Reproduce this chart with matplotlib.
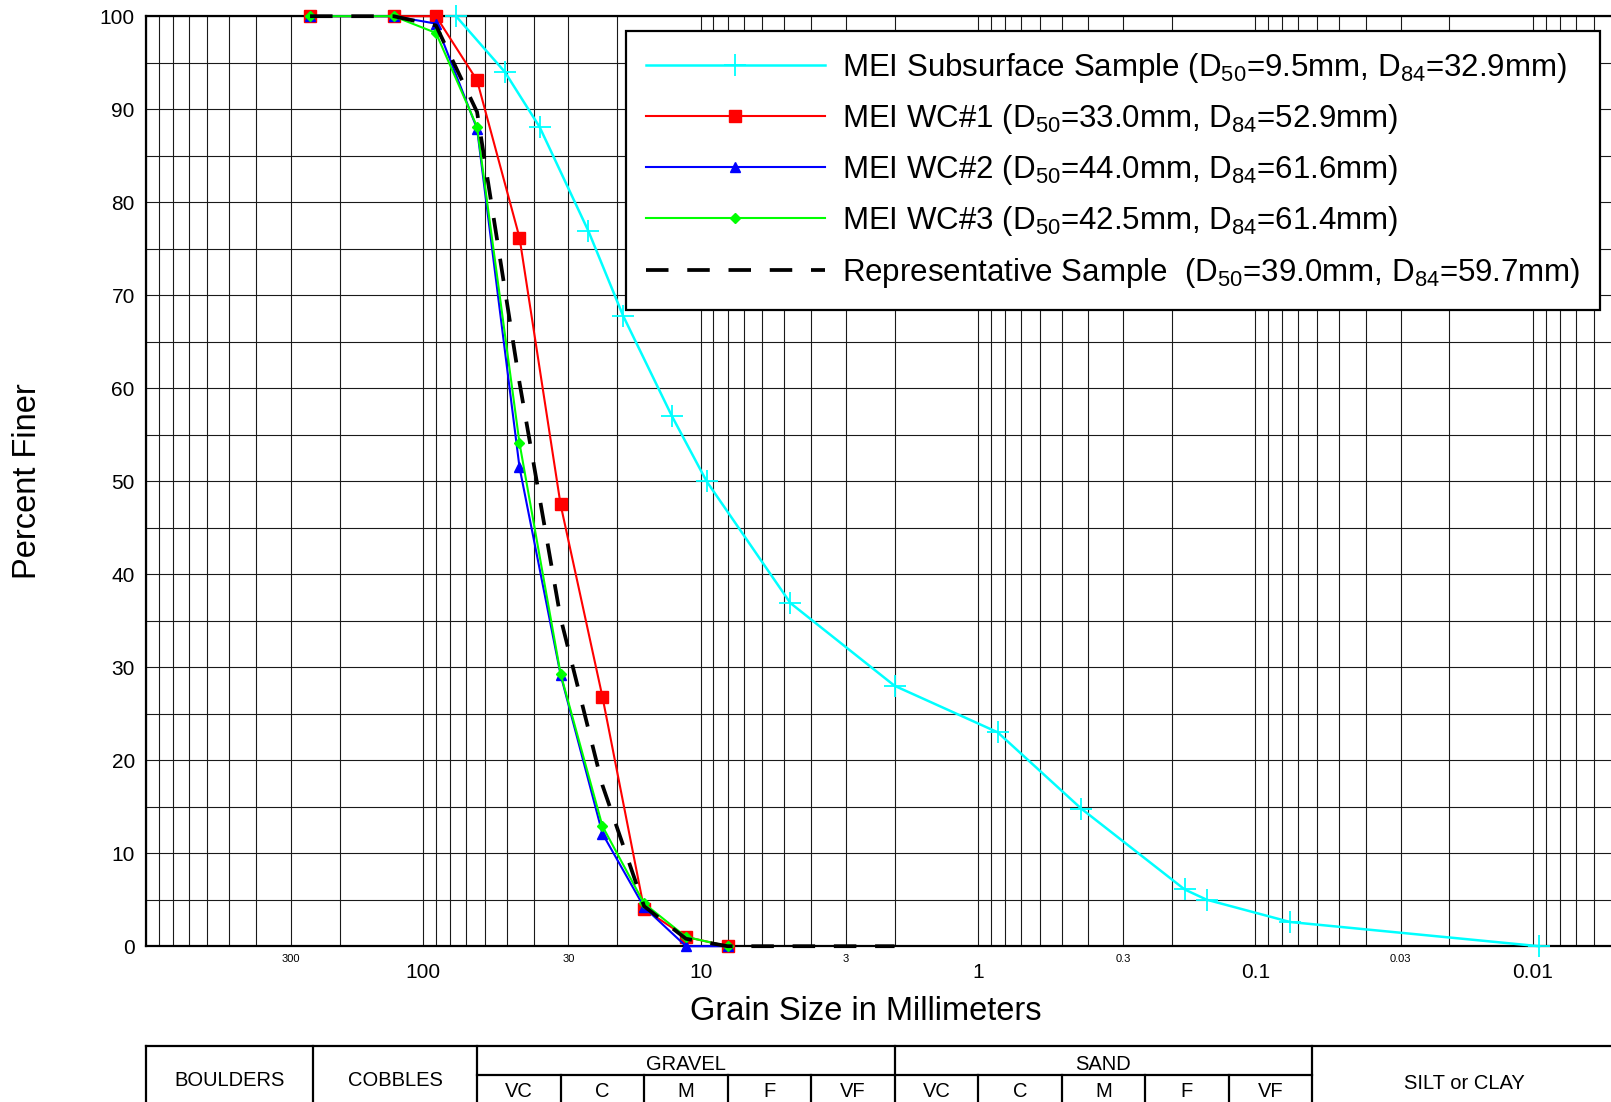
import numpy as np
import matplotlib
matplotlib.use("Agg")
import matplotlib.pyplot as plt
from matplotlib.ticker import LogLocator, FuncFormatter, MultipleLocator

plt.rcParams['font.family'] = ['Liberation Sans', 'DejaVu Sans']
plt.rcParams['mathtext.fontset'] = 'custom'
plt.rcParams['mathtext.rm'] = 'Liberation Sans'
plt.rcParams['mathtext.it'] = 'Liberation Sans'
plt.rcParams['mathtext.bf'] = 'Liberation Sans:bold'
plt.rcParams['mathtext.default'] = 'regular'

# ---------------- data ----------------
sub_sizes = [76.2, 50.8, 38.1, 25.4, 19.05, 12.7, 9.525, 4.75, 2.0, 0.85, 0.425, 0.18, 0.15, 0.075, 0.0095]
sub_pct = [100, 94.0, 88.1, 76.9, 67.8, 57.0, 50.0, 36.9, 28.0, 23.0, 14.8, 6.1, 5.0, 2.6, 0]

wc_sizes = [256, 128, 90, 64, 45, 32, 22.6, 16, 11.3, 8]
wc1_pct = [100, 100, 100, 93.1, 76.2, 47.5, 26.8, 4.0, 1.0, 0]
wc2_pct = [100, 100, 99.2, 87.9, 51.5, 29.2, 12.1, 4.2, 0, 0]
wc3_pct = [100, 100, 98.2, 88.1, 54.1, 29.3, 12.9, 4.6, 1.0, 0]

rep_sizes = [256, 128, 90, 64, 45, 32, 22.6, 16, 11.3, 8, 2]
rep_pct = [100, 100, 99.0, 89.7, 60.6, 35.3, 17.3, 4.3, 0.8, 0, 0]

labels = [
    r'MEI Subsurface Sample (D$_{50}$=9.5mm, D$_{84}$=32.9mm)',
    r'MEI WC#1 (D$_{50}$=33.0mm, D$_{84}$=52.9mm)',
    r'MEI WC#2 (D$_{50}$=44.0mm, D$_{84}$=61.6mm)',
    r'MEI WC#3 (D$_{50}$=42.5mm, D$_{84}$=61.4mm)',
    r'Representative Sample  (D$_{50}$=39.0mm, D$_{84}$=59.7mm)',
]

# grain-size classification table
main_classes = ['BOULDERS', 'COBBLES', 'GRAVEL', 'SAND', 'SILT or CLAY']
main_bounds = [1000, 250, 64, 2, 0.0625, 0.005]
sub_classes = ['VC', 'C', 'M', 'F', 'VF']
gravel_bounds = [64, 32, 16, 8, 4, 2]
sand_bounds = [2, 1, 0.5, 0.25, 0.125, 0.0625]

x_limits = (1000, 0.005)

# ---------------- figure ----------------
W, H = 1611, 1102
fig = plt.figure(figsize=(W / 100, H / 100), dpi=100)

ax_left = 145.9 / W
ax_right_px = 1616.4
ax_bottom = 1 - 946.2 / H
ax_top = 1 - 16.2 / H
ax = fig.add_axes([ax_left, ax_bottom, (ax_right_px - 145.9) / W, ax_top - ax_bottom])

ax.set_xscale('log')
ax.set_xlim(*x_limits)
ax.set_ylim(0, 100)

ax.xaxis.set_major_locator(LogLocator(base=10, numticks=20))
ax.xaxis.set_minor_locator(LogLocator(base=10, subs=np.arange(2, 10), numticks=200))


def major_fmt(v, pos):
    if v >= 999:
        return ''
    return '%g' % v


def minor_fmt(v, pos):
    m = v / 10 ** np.floor(np.log10(v) + 1e-9)
    if abs(m - 3) < 1e-6:
        return '%g' % float('%.3g' % v)
    return ''


ax.xaxis.set_major_formatter(FuncFormatter(major_fmt))
ax.xaxis.set_minor_formatter(FuncFormatter(minor_fmt))
ax.yaxis.set_major_locator(MultipleLocator(10))
ax.yaxis.set_minor_locator(MultipleLocator(5))

ax.tick_params(axis='x', which='major', length=0, labelsize=15, pad=12)
ax.tick_params(axis='x', which='minor', length=0, labelsize=8, pad=5.5)
ax.tick_params(axis='y', which='both', length=0, labelsize=15, pad=8)

ax.grid(True, which='both', axis='both', color='#1a1a1a', linewidth=0.8)
ax.set_axisbelow(True)
for s in ax.spines.values():
    s.set_linewidth(1.6)
    s.set_color('black')

l_sub, = ax.plot(sub_sizes, sub_pct, color='#00FFFF', lw=1.8, marker='+', ms=15.5, mew=1.3,
                 clip_on=False, zorder=3)
l_wc1, = ax.plot(wc_sizes, wc1_pct, color='#FF0000', lw=1.5, marker='s', ms=8.5,
                 clip_on=False, zorder=4)
l_wc2, = ax.plot(wc_sizes, wc2_pct, color='#0000FF', lw=1.5, marker='^', ms=6.5,
                 clip_on=False, zorder=5)
l_wc3, = ax.plot(wc_sizes, wc3_pct, color='#00FF00', lw=1.5, marker='D', ms=5.5,
                 clip_on=False, zorder=6)
l_rep, = ax.plot(rep_sizes, rep_pct, color='black', lw=2.7, dashes=(6, 5.0),
                 clip_on=False, zorder=7)

leg = ax.legend([l_sub, l_wc1, l_wc2, l_wc3, l_rep], labels,
                loc='upper left', bbox_to_anchor=(626 / W, 1 - 30.8 / H),
                bbox_transform=fig.transFigure, borderaxespad=0,
                fontsize=22.5, numpoints=1, handlelength=5.72, handletextpad=0.55,
                borderpad=0.64, labelspacing=0.55, fancybox=False, framealpha=1,
                edgecolor='black')
leg.get_frame().set_linewidth(1.6)
leg.set_zorder(10)

ax.set_xlabel('Grain Size in Millimeters', fontsize=23.5)
ax.xaxis.label.set_va('center')
ax.xaxis.set_label_coords(0.4897, (946.2 - 1011) / 930)
ax.set_ylabel('Percent Finer', fontsize=23.5)
ax.yaxis.label.set_va('center')
ax.yaxis.set_label_coords((27 - 145.9) / 1470.5, 0.5)

# ---------------- classification table ----------------
tb_top, tb_bot = 1046, 1109
tax = fig.add_axes([ax_left, 1 - tb_bot / H, (ax_right_px - 145.9) / W, (tb_bot - tb_top) / H])
tax.set_xscale('log')
tax.set_xlim(*x_limits)
tax.set_ylim(0, 1)
tax.axis('off')
div = (tb_bot - 1074.7) / (tb_bot - tb_top)
lw_t = 1.6
kw = dict(color='black', lw=lw_t, clip_on=False, solid_capstyle='projecting')

tax.plot([main_bounds[0], main_bounds[-1]], [1, 1], **kw)
tax.plot([main_bounds[0], main_bounds[-1]], [0, 0], **kw)
for b in main_bounds:
    tax.plot([b, b], [0, 1], **kw)
tax.plot([gravel_bounds[0], sand_bounds[-1]], [div, div], **kw)
for b in gravel_bounds[1:-1] + sand_bounds[1:-1]:
    tax.plot([b, b], [0, div], **kw)


def gmid(a, b):
    return np.sqrt(a * b)


for i, name in enumerate(main_classes):
    a, b = main_bounds[i], main_bounds[i + 1]
    if name in ('GRAVEL', 'SAND'):
        y = (1 + div) / 2 - 0.06
    elif name == 'SILT or CLAY':
        y = 0.41
    else:
        y = 0.46
    tax.text(gmid(a, b), y, name, ha='center', va='center', fontsize=14.5)

for bounds in (gravel_bounds, sand_bounds):
    for i, name in enumerate(sub_classes):
        tax.text(gmid(bounds[i], bounds[i + 1]), div / 2 + 0.01, name, ha='center',
                 va='center', fontsize=14.5)

fig.savefig('out.png', dpi=100)
